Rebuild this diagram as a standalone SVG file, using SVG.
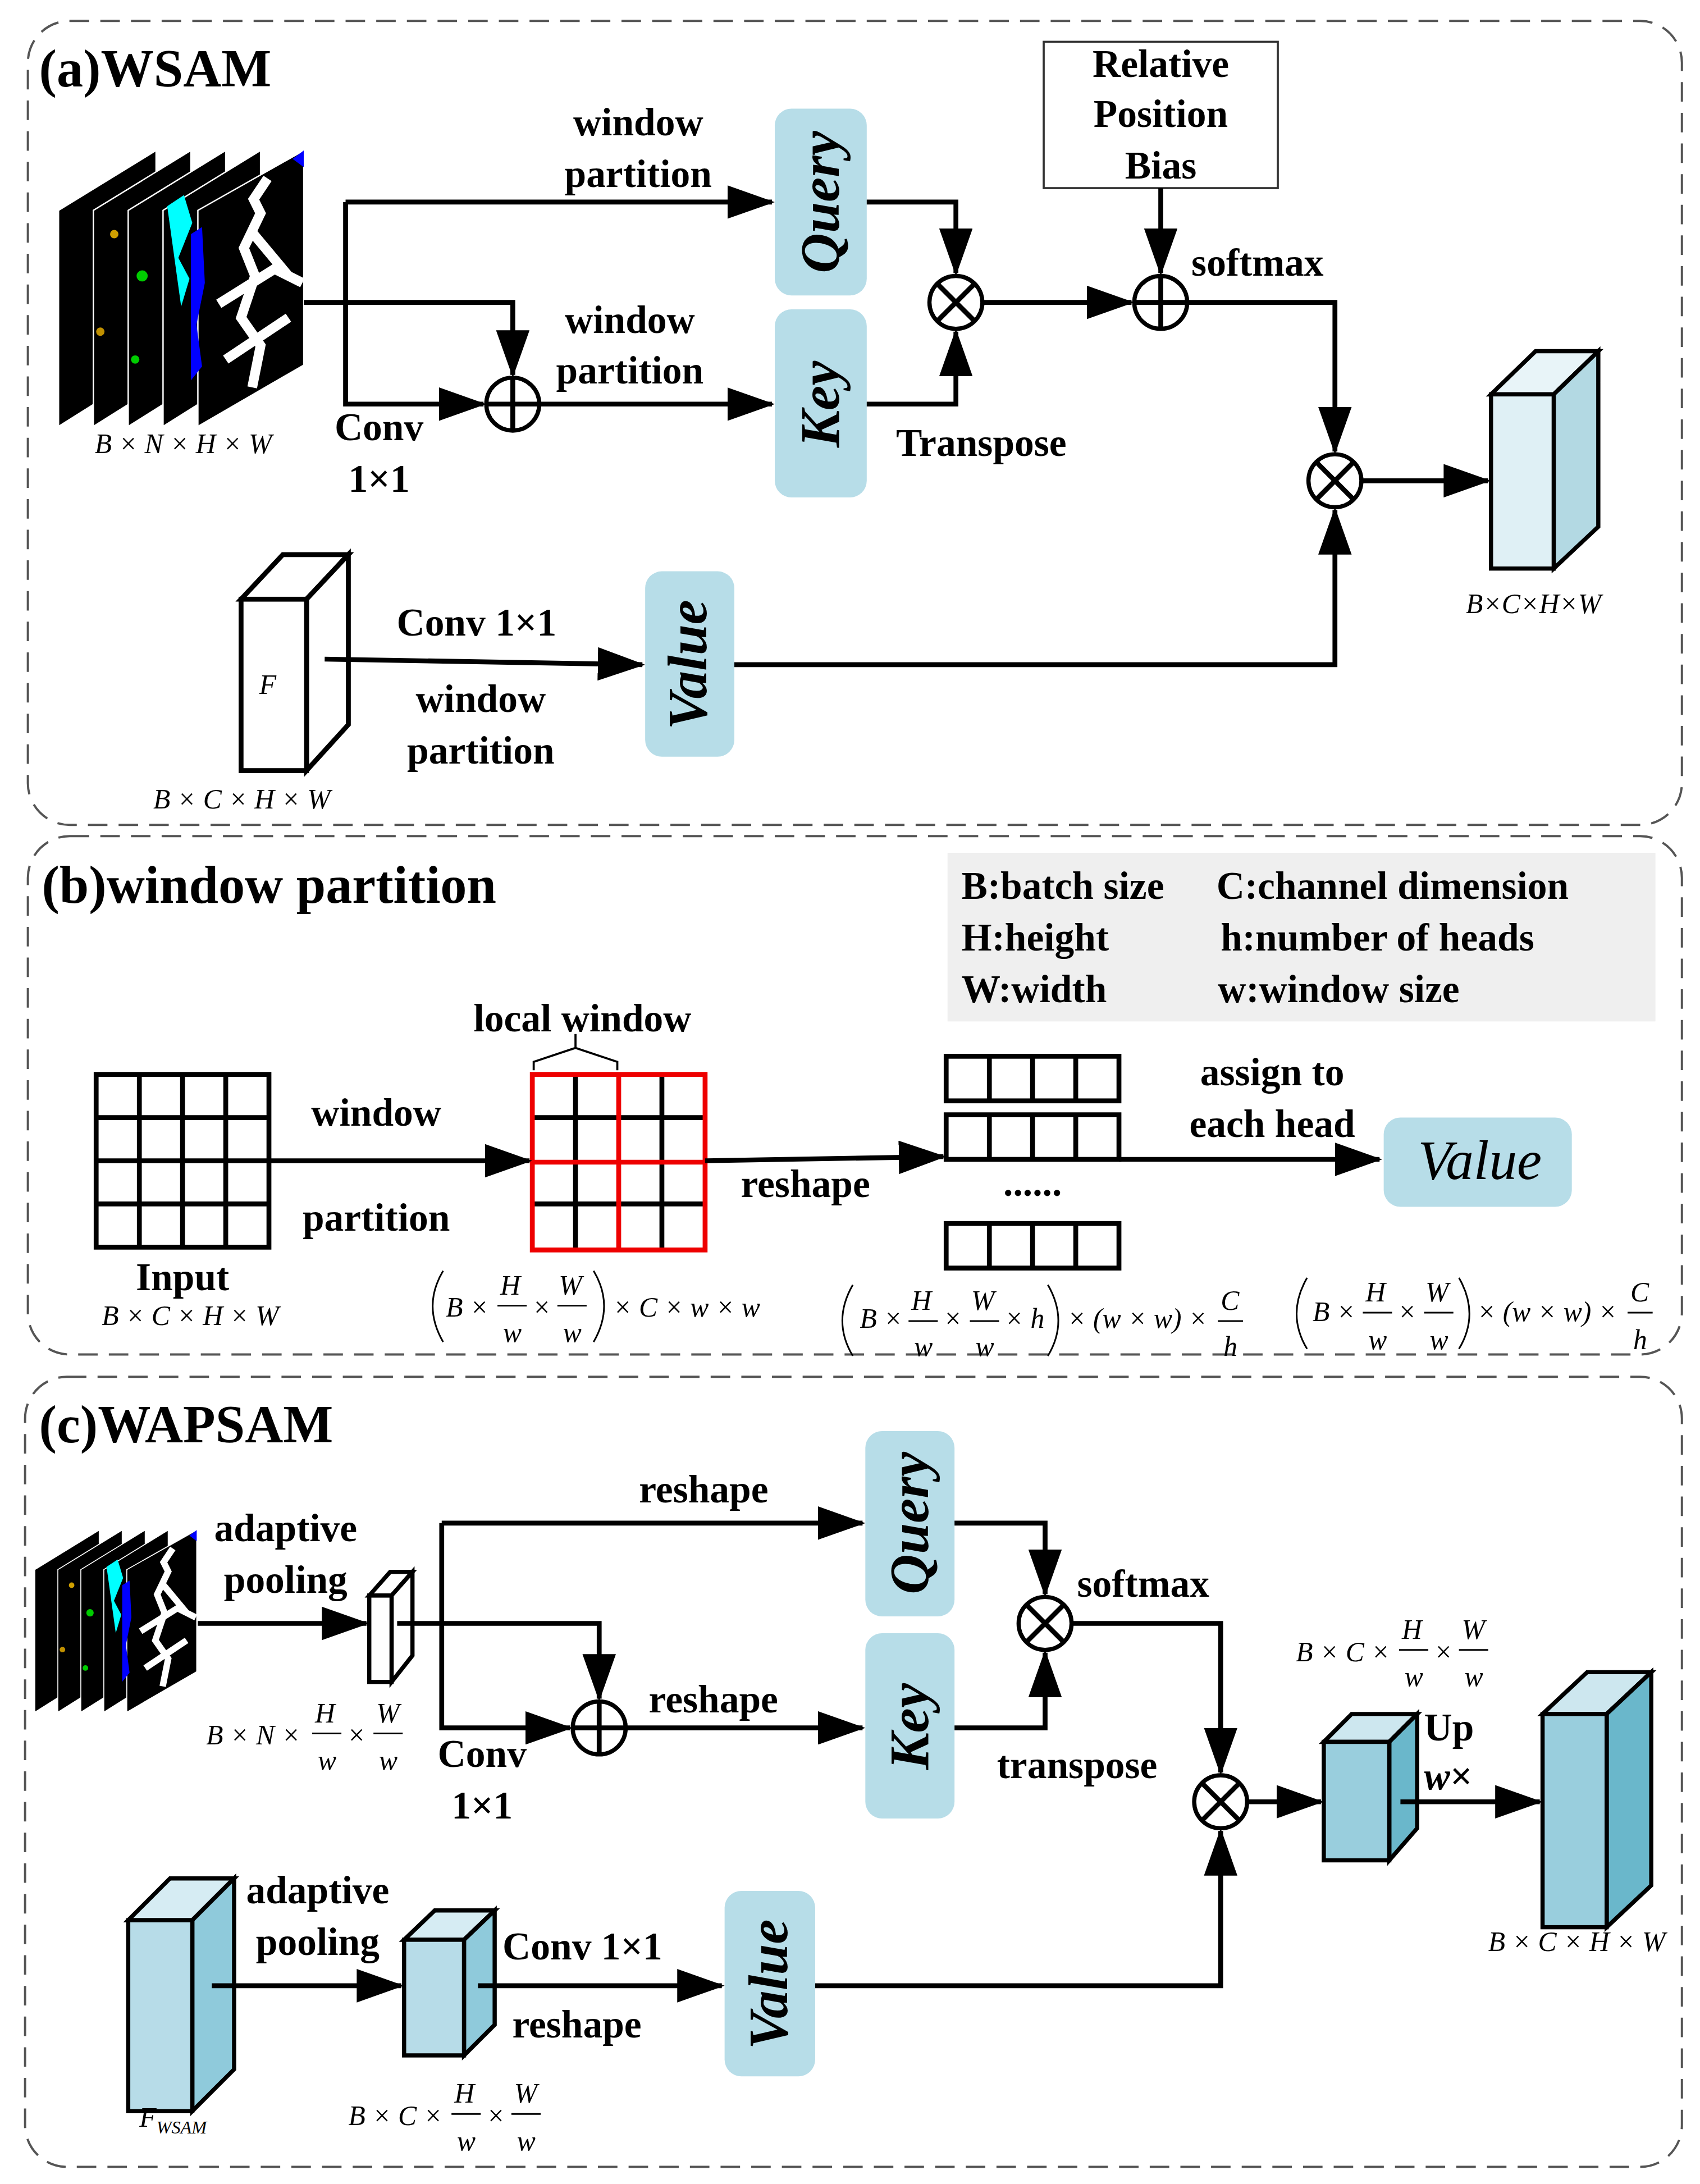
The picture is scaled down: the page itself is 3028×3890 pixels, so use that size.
<svg xmlns="http://www.w3.org/2000/svg" width="3028" height="3890" viewBox="0 0 3028 3890">
<defs>
<style>
.lb{font-family:"Liberation Serif",serif;font-weight:bold;font-size:28px;fill:#000;text-anchor:middle}
.ls{text-anchor:start}
.tt{font-family:"Liberation Serif",serif;font-weight:bold;font-size:38px;fill:#000}
.fm{font-family:"Liberation Serif",serif;font-style:italic;font-size:20px;fill:#000}
.pp{fill:none;stroke:#000;stroke-width:1.2}
.bx{font-family:"Liberation Serif",serif;font-weight:bold;font-style:italic;font-size:40px;fill:#000;text-anchor:middle}
.ln{fill:none;stroke:#000;stroke-width:3.5}
.panel{fill:none;stroke:#555;stroke-width:1.6;stroke-dasharray:14 8}
.qk{fill:#b7dde8}
.op{fill:#fff;stroke:#000;stroke-width:3}
</style>
<marker id="ah" markerUnits="userSpaceOnUse" markerWidth="34" markerHeight="24" refX="32" refY="12" orient="auto"><path d="M0,0 L34,12 L0,24 Z" fill="#000"/></marker>
<g id="stack">
<polygon points="0,198 0,43 70,0 70,154" fill="#000" stroke="#fff" stroke-width="1"/>
<polygon points="25,198 25,43 95,0 95,154" fill="#000" stroke="#fff" stroke-width="1"/>
<polygon points="50,198 50,43 120,0 120,154" fill="#000" stroke="#fff" stroke-width="1"/>
<polygon points="75,198 75,43 145,0 145,154" fill="#000" stroke="#fff" stroke-width="1"/>
<polygon points="100,198 100,43 176,0 176,154" fill="#000" stroke="#fff" stroke-width="1"/>
<circle cx="40" cy="60" r="3" fill="#d0a000"/><circle cx="30" cy="130" r="3" fill="#c09000"/><circle cx="60" cy="90" r="4" fill="#0c0"/><circle cx="55" cy="150" r="3" fill="#0c0"/>
<path d="M78,40 l12,-8 l6,20 l-10,25 l8,15 l-6,20 z" fill="#0ff"/>
<path d="M95,60 l8,-5 l2,40 l-6,30 l4,30 l-8,10 z" fill="#00f"/>
<path d="M168,6 l8,-6 l0,12 z" fill="#00f"/>
<path d="M150,20 l-10,15 l5,10 l-12,25 l8,20 l-10,30 l14,20 l-6,30 M115,110 l40,-25 l20,10 M120,150 l45,-30 M140,60 l25,30" fill="none" stroke="#fff" stroke-width="7"/>
</g>
</defs>
<rect width="3028" height="3890" fill="#fff"/>
<g transform="scale(2.482)">
<rect class="panel" x="20" y="15" width="1187" height="577" rx="30"/>
<rect class="panel" x="20" y="600" width="1187" height="372" rx="30"/>
<rect class="panel" x="18" y="988" width="1189" height="567" rx="30"/>

<!-- ===== (a) ===== -->
<text class="tt" x="28" y="62">(a)WSAM</text>
<g id="a_img"><use href="#stack" transform="translate(42,108)"/>
<text class="fm" x="68" y="325">B × N × H × W</text></g>
<g id="a_query"><rect class="qk" x="556" y="78" width="66" height="134" rx="12"/><text class="bx" transform="translate(602,145) rotate(-90)">Query</text></g>
<g id="a_key"><rect class="qk" x="556" y="222" width="66" height="135" rx="12"/><text class="bx" transform="translate(602,290) rotate(-90)">Key</text></g>
<g id="a_value"><rect class="qk" x="463" y="410" width="64" height="133" rx="12"/><text class="bx" transform="translate(507,477) rotate(-90)">Value</text></g>
<g id="a_rpb"><rect x="749" y="30" width="168" height="105" fill="#fff" stroke="#333" stroke-width="1.5"/>
<text class="lb" x="833" y="55">Relative</text><text class="lb" x="833" y="91">Position</text><text class="lb" x="833" y="128">Bias</text></g>
<g id="a_plus1"><circle class="op" cx="368" cy="290" r="19"/><path class="ln" d="M349,290 H387 M368,271 V309" stroke-width="2.5"/></g>
<g id="a_mul1"><circle class="op" cx="686" cy="217" r="19"/><path class="ln" d="M673,204 L699,230 M699,204 L673,230" stroke-width="2.5"/></g>
<g id="a_plus2"><circle class="op" cx="833" cy="217" r="19"/><path class="ln" d="M814,217 H852 M833,198 V236" stroke-width="2.5"/></g>
<g id="a_mul2"><circle class="op" cx="958" cy="345" r="19"/><path class="ln" d="M945,332 L971,358 M971,332 L945,358" stroke-width="2.5"/></g>
<g id="a_out"><polygon points="1070,283 1102,252 1147,252 1115,283" fill="#e8f4f8" stroke="#000" stroke-width="3"/>
<polygon points="1115,283 1147,252 1147,378 1115,408" fill="#b3d9e3" stroke="#000" stroke-width="3"/>
<rect x="1070" y="283" width="45" height="125" fill="#dff0f5" stroke="#000" stroke-width="3"/>
<text class="fm" x="1052" y="440" font-size="17">B×C×H×W</text></g>
<g id="a_F"><polygon points="173,430 203,398 250,398 220,430" fill="#fff" stroke="#000" stroke-width="3.5"/>
<polygon points="220,430 250,398 250,520 220,553" fill="#fff" stroke="#000" stroke-width="3.5"/>
<rect x="173" y="430" width="47" height="123" fill="#fff" stroke="#000" stroke-width="3.5"/>
<text class="fm" x="186" y="498" font-size="22">F</text>
<text class="fm" x="110" y="580">B × C × H × W</text></g>
<g id="a_labels">
<text class="lb" x="458" y="97">window</text><text class="lb" x="458" y="134">partition</text>
<text class="lb" x="452" y="239">window</text><text class="lb" x="452" y="275">partition</text>
<text class="lb" x="272" y="316">Conv</text><text class="lb" x="272" y="353">1×1</text>
<text class="lb ls" x="643" y="327">Transpose</text>
<text class="lb ls" x="855" y="198">softmax</text>
<text class="lb" x="342" y="456">Conv 1×1</text>
<text class="lb" x="345" y="511">window</text><text class="lb" x="345" y="548">partition</text>
</g>
<g id="a_connectors">
<path class="ln" d="M218,217 H368 V269" marker-end="url(#ah)"/>
<path class="ln" d="M248,145 H554" marker-end="url(#ah)"/>
<path class="ln" d="M248,145 V290 H347" marker-end="url(#ah)"/>
<path class="ln" d="M387,290 H554" marker-end="url(#ah)"/>
<path class="ln" d="M622,145 H686 V196" marker-end="url(#ah)"/>
<path class="ln" d="M622,290 H686 V238" marker-end="url(#ah)"/>
<path class="ln" d="M705,217 H812" marker-end="url(#ah)"/>
<path class="ln" d="M833,135 V196" marker-end="url(#ah)"/>
<path class="ln" d="M852,217 H958 V324" marker-end="url(#ah)"/>
<path class="ln" d="M977,345 H1068" marker-end="url(#ah)"/>
<path class="ln" d="M233,473 L461,477" marker-end="url(#ah)"/>
<path class="ln" d="M527,477 H958 V366" marker-end="url(#ah)"/>
</g>

<!-- ===== (b) ===== -->
<text class="tt" x="30" y="648">(b)window partition</text>
<g id="b_legend"><rect x="680" y="612" width="508" height="121" fill="#efefef"/>
<text class="lb ls" x="690" y="645">B:batch size</text><text class="lb ls" x="873" y="645">C:channel dimension</text>
<text class="lb ls" x="690" y="682">H:height</text><text class="lb ls" x="876" y="682">h:number of heads</text>
<text class="lb ls" x="690" y="719">W:width</text><text class="lb ls" x="874" y="719">w:window size</text></g>
<g id="b_input"><rect x="69" y="771" width="124" height="124" fill="#fff" stroke="#000" stroke-width="3.5"/>
<path class="ln" d="M100,771 V895 M131,771 V895 M162,771 V895 M69,802 H193 M69,833 H193 M69,864 H193"/>
<text class="lb" x="131" y="926">Input</text><text class="fm" x="73" y="951">B × C × H × W</text></g>
<g id="b_local"><path class="ln" d="M413,771 V897 M475,771 V897 M382,802 H506 M382,864 H506" stroke-width="3"/>
<rect x="382" y="771" width="124" height="126" fill="none" stroke="#e00" stroke-width="3.5"/>
<path d="M444,771 V897 M382,834 H506" stroke="#e00" stroke-width="3.5"/>
<path d="M383,768 V762 L413,752 L443,762 V768 M413,752 V742" fill="none" stroke="#000" stroke-width="1.5"/>
<text class="lb" x="418" y="740">local window</text></g>
<g id="b_bars"><g fill="#fff" stroke="#000" stroke-width="3.5">
<rect x="679" y="758" width="124" height="32"/><rect x="679" y="800" width="124" height="32"/><rect x="679" y="878" width="124" height="32"/></g>
<path class="ln" d="M710,758 V790 M741,758 V790 M772,758 V790 M710,800 V832 M741,800 V832 M772,800 V832 M710,878 V910 M741,878 V910 M772,878 V910" stroke-width="3"/>
<text class="lb" x="741" y="858">......</text></g>
<g id="b_value"><rect class="qk" x="993" y="802" width="135" height="64" rx="12"/><text class="bx" x="1062" y="846" style="font-weight:normal;font-size:40px">Value</text></g>
<g id="b_labels">
<text class="lb" x="270" y="808">window</text><text class="lb" x="270" y="883">partition</text>
<text class="lb" x="578" y="859">reshape</text>
<text class="lb" x="913" y="779">assign to</text><text class="lb" x="913" y="816">each head</text></g>
<g id="b_connectors">
<path class="ln" d="M193,833 H380" marker-end="url(#ah)"/>
<path class="ln" d="M506,833 L677,830" marker-end="url(#ah)"/>
<path class="ln" d="M803,832 H990" marker-end="url(#ah)"/>
</g>
<g id="b_f1">
<path class="pp" d="M318,912 Q303,937 318,963"/>
<text class="fm" x="320" y="945">B ×</text>
<text class="fm" x="359" y="929">H</text><path d="M357,937 H378" stroke="#000" stroke-width="1.2"/><text class="fm" x="361" y="963">w</text>
<text class="fm" x="382" y="945">×</text>
<text class="fm" x="401" y="929">W</text><path d="M400,937 H421" stroke="#000" stroke-width="1.2"/><text class="fm" x="404" y="963">w</text>
<path class="pp" d="M426,912 Q441,937 426,963"/>
<text class="fm" x="440" y="945">× C × w × w</text></g>
<g id="b_f2">
<path class="pp" d="M612,922 Q597,948 612,973"/>
<text class="fm" x="617" y="953">B ×</text>
<text class="fm" x="654" y="940">H</text><path d="M652,948 H673" stroke="#000" stroke-width="1.2"/><text class="fm" x="656" y="973">w</text>
<text class="fm" x="677" y="953">×</text>
<text class="fm" x="697" y="940">W</text><path d="M696,948 H717" stroke="#000" stroke-width="1.2"/><text class="fm" x="700" y="973">w</text>
<text class="fm" x="721" y="953">× h</text>
<path class="pp" d="M752,922 Q767,948 752,973"/>
<text class="fm" x="766" y="953">× (w × w) ×</text>
<text class="fm" x="876" y="940">C</text><path d="M874,948 H892" stroke="#000" stroke-width="1.2"/><text class="fm" x="878" y="973">h</text></g>
<g id="b_f3">
<path class="pp" d="M938,917 Q923,943 938,968"/>
<text class="fm" x="942" y="948">B ×</text>
<text class="fm" x="980" y="934">H</text><path d="M978,942 H999" stroke="#000" stroke-width="1.2"/><text class="fm" x="982" y="968">w</text>
<text class="fm" x="1003" y="948">×</text>
<text class="fm" x="1023" y="934">W</text><path d="M1022,942 H1043" stroke="#000" stroke-width="1.2"/><text class="fm" x="1026" y="968">w</text>
<path class="pp" d="M1047,917 Q1062,943 1047,968"/>
<text class="fm" x="1060" y="948">× (w × w) ×</text>
<text class="fm" x="1170" y="934">C</text><path d="M1168,942 H1186" stroke="#000" stroke-width="1.2"/><text class="fm" x="1172" y="968">h</text></g>

<!-- ===== (c) ===== -->
<text class="tt" x="28" y="1035">(c)WAPSAM</text>
<g id="c_img"><use href="#stack" transform="translate(25,1098) scale(0.66)"/></g>
<g id="c_slab"><polygon points="265,1145 280,1128 296,1128 281,1145" fill="#fff" stroke="#000" stroke-width="3"/>
<polygon points="281,1145 296,1128 296,1188 281,1207" fill="#fff" stroke="#000" stroke-width="3"/>
<rect x="265" y="1145" width="16" height="62" fill="#fff" stroke="#000" stroke-width="3"/>
<text class="fm" x="148" y="1252">B × N ×</text>
<text class="fm" x="226" y="1236">H</text><path d="M224,1244 H245" stroke="#000" stroke-width="1.2"/><text class="fm" x="228" y="1270">w</text>
<text class="fm" x="249" y="1252">×</text>
<text class="fm" x="270" y="1236">W</text><path d="M268,1244 H289" stroke="#000" stroke-width="1.2"/><text class="fm" x="272" y="1270">w</text></g>
<g id="c_query"><rect class="qk" x="621" y="1027" width="64" height="133" rx="12"/><text class="bx" transform="translate(666,1093) rotate(-90)">Query</text></g>
<g id="c_key"><rect class="qk" x="621" y="1172" width="64" height="133" rx="12"/><text class="bx" transform="translate(666,1239) rotate(-90)">Key</text></g>
<g id="c_value"><rect class="qk" x="520" y="1357" width="65" height="133" rx="12"/><text class="bx" transform="translate(565,1424) rotate(-90)">Value</text></g>
<g id="c_plus"><circle class="op" cx="430" cy="1240" r="19"/><path class="ln" d="M411,1240 H449 M430,1221 V1259" stroke-width="2.5"/></g>
<g id="c_mul1"><circle class="op" cx="750" cy="1165" r="19"/><path class="ln" d="M737,1152 L763,1178 M763,1152 L737,1178" stroke-width="2.5"/></g>
<g id="c_mul2"><circle class="op" cx="876" cy="1293" r="19"/><path class="ln" d="M863,1280 L889,1306 M889,1280 L863,1306" stroke-width="2.5"/></g>
<g id="c_mid"><polygon points="950,1250 970,1230 1017,1230 997,1250" fill="#cde7ef" stroke="#000" stroke-width="3"/>
<polygon points="997,1250 1017,1230 1017,1312 997,1335" fill="#6ab7cb" stroke="#000" stroke-width="3"/>
<rect x="950" y="1250" width="47" height="85" fill="#99cedd" stroke="#000" stroke-width="3"/>
<text class="fm" x="930" y="1192">B × C ×</text>
<text class="fm" x="1006" y="1176">H</text><path d="M1004,1184 H1025" stroke="#000" stroke-width="1.2"/><text class="fm" x="1008" y="1210">w</text>
<text class="fm" x="1029" y="1192">×</text>
<text class="fm" x="1049" y="1176">W</text><path d="M1047,1184 H1068" stroke="#000" stroke-width="1.2"/><text class="fm" x="1051" y="1210">w</text></g>
<g id="c_out"><polygon points="1107,1230 1139,1200 1185,1200 1153,1230" fill="#cde7ef" stroke="#000" stroke-width="3"/>
<polygon points="1153,1230 1185,1200 1185,1353 1153,1383" fill="#6ab7cb" stroke="#000" stroke-width="3"/>
<rect x="1107" y="1230" width="46" height="153" fill="#99cedd" stroke="#000" stroke-width="3"/>
<text class="fm" x="1068" y="1400">B × C × H × W</text></g>
<g id="c_Fw"><polygon points="92,1378 122,1348 168,1348 138,1378" fill="#d6ecf3" stroke="#000" stroke-width="3"/>
<polygon points="138,1378 168,1348 168,1485 138,1515" fill="#8fcadb" stroke="#000" stroke-width="3"/>
<rect x="92" y="1378" width="46" height="137" fill="#b7dce8" stroke="#000" stroke-width="3"/>
<text class="fm" x="100" y="1526">F<tspan font-size="13" dy="5">WSAM</tspan></text></g>
<g id="c_small"><polygon points="290,1392 312,1371 355,1371 333,1392" fill="#d6ecf3" stroke="#000" stroke-width="3"/>
<polygon points="333,1392 355,1371 355,1453 333,1475" fill="#8fcadb" stroke="#000" stroke-width="3"/>
<rect x="290" y="1392" width="43" height="83" fill="#b7dce8" stroke="#000" stroke-width="3"/>
<text class="fm" x="250" y="1525">B × C ×</text>
<text class="fm" x="326" y="1509">H</text><path d="M324,1517 H345" stroke="#000" stroke-width="1.2"/><text class="fm" x="328" y="1543">w</text>
<text class="fm" x="349" y="1525">×</text>
<text class="fm" x="369" y="1509">W</text><path d="M367,1517 H388" stroke="#000" stroke-width="1.2"/><text class="fm" x="371" y="1543">w</text></g>
<g id="c_labels">
<text class="lb" x="205" y="1106">adaptive</text><text class="lb" x="205" y="1143">pooling</text>
<text class="lb" x="505" y="1078">reshape</text><text class="lb" x="512" y="1229">reshape</text>
<text class="lb" x="346" y="1268">Conv</text><text class="lb" x="346" y="1305">1×1</text>
<text class="lb ls" x="773" y="1146">softmax</text>
<text class="lb" x="773" y="1276">transpose</text>
<text class="lb ls" x="1022" y="1249">Up</text>
<text class="lb ls" x="1022" y="1284"><tspan font-style="italic">w</tspan>×</text>
<text class="lb" x="228" y="1366">adaptive</text><text class="lb" x="228" y="1403">pooling</text>
<text class="lb" x="418" y="1406">Conv 1×1</text><text class="lb" x="414" y="1462">reshape</text>
</g>
<g id="c_connectors">
<path class="ln" d="M142,1165 H263" marker-end="url(#ah)"/>
<path class="ln" d="M285,1165 H430 V1219" marker-end="url(#ah)"/>
<path class="ln" d="M317,1093 H619" marker-end="url(#ah)"/>
<path class="ln" d="M317,1093 V1240 H409" marker-end="url(#ah)"/>
<path class="ln" d="M449,1240 H619" marker-end="url(#ah)"/>
<path class="ln" d="M685,1093 H750 V1144" marker-end="url(#ah)"/>
<path class="ln" d="M685,1240 H750 V1186" marker-end="url(#ah)"/>
<path class="ln" d="M769,1165 H876 V1272" marker-end="url(#ah)"/>
<path class="ln" d="M895,1293 H948" marker-end="url(#ah)"/>
<path class="ln" d="M1005,1293 H1105" marker-end="url(#ah)"/>
<path class="ln" d="M152,1425 H288" marker-end="url(#ah)"/>
<path class="ln" d="M343,1425 H518" marker-end="url(#ah)"/>
<path class="ln" d="M585,1425 H876 V1314" marker-end="url(#ah)"/>
</g>
</g>
</svg>
